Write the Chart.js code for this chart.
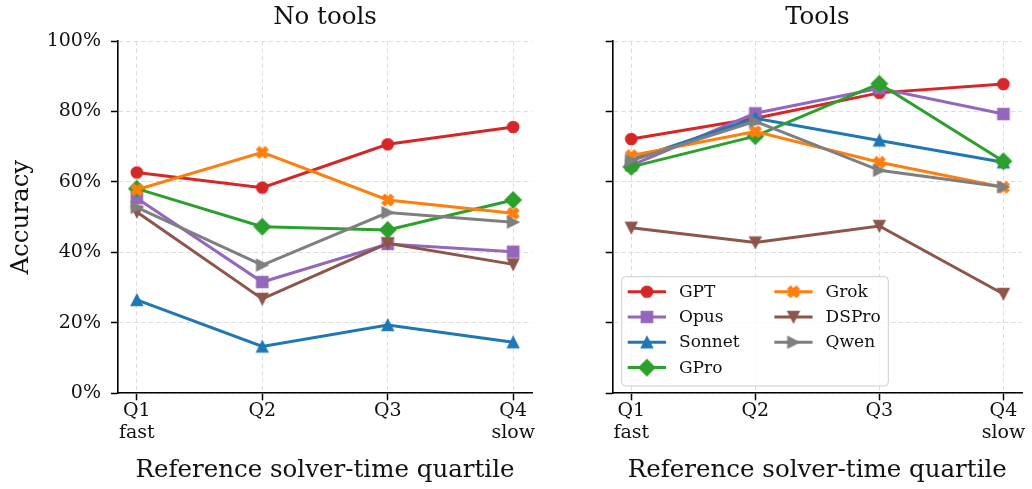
<!DOCTYPE html>
<html><head><meta charset="utf-8">
<script src="https://cdn.jsdelivr.net/npm/chart.js@4.4.1/dist/chart.umd.min.js"></script>
<style>
html,body{margin:0;padding:0;background:#fff;width:1032px;height:489px;overflow:hidden}
#cL{position:absolute;left:0;top:0}
#cR{position:absolute;left:560px;top:0}
</style></head><body>
<canvas id="cL" width="560" height="489"></canvas>
<canvas id="cR" width="472" height="489"></canvas>
<script>
// ---- data ----
const categories = ['Q1', 'Q2', 'Q3', 'Q4'];
const categorySubLabels = ['fast', '', '', 'slow'];
const yTicks = [0, 20, 40, 60, 80, 100];
const models = ['GPT', 'Opus', 'Sonnet', 'GPro', 'Grok', 'DSPro', 'Qwen'];
const colors = ['#d62728', '#9467bd', '#1f77b4', '#2ca02c', '#ff7f0e', '#8c564b', '#7f7f7f'];
const markers = ['circle', 'square', 'triUp', 'diamond', 'xFilled', 'triDown', 'triRight'];

const noToolsGPT    = [62.7, 58.4, 70.7, 75.6];
const noToolsOpus   = [55.4, 31.6, 42.4, 40.2];
const noToolsSonnet = [26.5, 13.3, 19.4, 14.5];
const noToolsGPro   = [58.1, 47.3, 46.4, 54.9];
const noToolsGrok   = [57.8, 68.4, 54.9, 51.1];
const noToolsDSPro  = [51.5, 26.8, 42.6, 36.6];
const noToolsQwen   = [52.8, 36.4, 51.3, 48.6];

const toolsGPT    = [72.2, 78.1, 85.3, 87.8];
const toolsOpus   = [64.7, 79.5, 86.6, 79.3];
const toolsSonnet = [66.3, 78.1, 71.8, 65.6];
const toolsGPro   = [64.3, 73.0, 87.9, 65.9];
const toolsGrok   = [67.5, 74.3, 65.6, 58.5];
const toolsDSPro  = [47.0, 42.8, 47.5, 28.2];
const toolsQwen   = [66.1, 77.2, 63.3, 58.6];

const noToolsSeries = [noToolsGPT, noToolsOpus, noToolsSonnet, noToolsGPro, noToolsGrok, noToolsDSPro, noToolsQwen];
const toolsSeries = [toolsGPT, toolsOpus, toolsSonnet, toolsGPro, toolsGrok, toolsDSPro, toolsQwen];

// ---- marker images ----
const MS = 11.5, EW = 1.2;
function markerCanvas(kind, color) {
  const size = 22;
  const c = document.createElement('canvas');
  c.width = size; c.height = size;
  const g = c.getContext('2d');
  g.translate(size / 2, size / 2);
  g.fillStyle = color; g.strokeStyle = color; g.lineWidth = EW; g.lineJoin = 'miter';
  const h = MS / 2;
  g.beginPath();
  if (kind === 'circle') {
    g.arc(0, 0, h, 0, Math.PI * 2);
  } else if (kind === 'square') {
    g.rect(-h, -h, MS, MS);
  } else if (kind === 'triUp') {
    g.moveTo(0, -h); g.lineTo(h, h); g.lineTo(-h, h); g.closePath();
  } else if (kind === 'triDown') {
    g.moveTo(0, h); g.lineTo(h, -h); g.lineTo(-h, -h); g.closePath();
  } else if (kind === 'triRight') {
    g.moveTo(h, 0); g.lineTo(-h, -h); g.lineTo(-h, h); g.closePath();
  } else if (kind === 'diamond') {
    const d = MS * Math.SQRT1_2;
    g.moveTo(0, -d); g.lineTo(d, 0); g.lineTo(0, d); g.lineTo(-d, 0); g.closePath();
  } else if (kind === 'xFilled') {
    const p = [[-1,-2],[0,-1],[1,-2],[2,-1],[1,0],[2,1],[1,2],[0,1],[-1,2],[-2,1],[-1,0],[-2,-1]];
    p.forEach((q, i) => { const x = q[0] * MS / 4, y = q[1] * MS / 4; if (i) g.lineTo(x, y); else g.moveTo(x, y); });
    g.closePath();
  }
  g.fill(); g.stroke();
  return c;
}

const FONT = 'DejaVu Serif';
const TEXT = '#111111';

const legendPlugin = {
  id: 'panelLegend',
  afterDatasetsDraw(chart, args, opts) {
    if (!opts || !opts.show) return;
    const ctx = chart.ctx, ca = chart.chartArea;
    const w = 266.6, h = 109.3;
    const x0 = ca.left + 9, y0 = ca.bottom - 7.3 - h;
    ctx.save();
    ctx.beginPath();
    if (ctx.roundRect) ctx.roundRect(x0, y0, w, h, 4); else ctx.rect(x0, y0, w, h);
    ctx.fillStyle = 'rgba(255,255,255,0.8)';
    ctx.fill();
    ctx.strokeStyle = '#cccccc'; ctx.lineWidth = 1; ctx.stroke();
    const rows = 4;
    chart.data.datasets.forEach((ds, i) => {
      const col = Math.floor(i / rows), row = i % rows;
      const lx = x0 + (col ? 152.6 : 6);
      const cy = y0 + 15 + row * 25.3;
      ctx.beginPath();
      ctx.moveTo(lx, cy); ctx.lineTo(lx + 38.3, cy);
      ctx.strokeStyle = ds.borderColor; ctx.lineWidth = 3; ctx.setLineDash([]);
      ctx.stroke();
      const img = ds.pointStyle;
      ctx.drawImage(img, lx + 19.2 - img.width / 2, cy - img.height / 2);
      ctx.fillStyle = TEXT;
      ctx.font = '17px "' + FONT + '"';
      ctx.textBaseline = 'middle'; ctx.textAlign = 'left';
      ctx.fillText(ds.label, lx + 51.3, cy + 0.5);
    });
    ctx.restore();
  }
};

function makePanel(canvasId, titleText, series, isLeft) {
  const datasets = models.map((m, i) => ({
    label: m,
    data: series[i].map((v, j) => ({ x: j, y: v })),
    borderColor: colors[i],
    backgroundColor: colors[i],
    borderWidth: 3,
    pointStyle: markerCanvas(markers[i], colors[i]),
    pointRadius: 7,
    order: models.length - i,
    tension: 0
  }));
  return new Chart(document.getElementById(canvasId), {
    type: 'line',
    data: { datasets },
    plugins: [legendPlugin],
    options: {
      responsive: false,
      animation: false,
      events: [],
      layout: { padding: { left: 0, right: isLeft ? 28 : 6, top: 0, bottom: 0 } },
      plugins: {
        legend: { display: false },
        tooltip: { enabled: false },
        title: {
          display: true, text: titleText, fullSize: false, color: TEXT,
          font: { family: FONT, size: 24.5, weight: 'normal', lineHeight: 1.2 },
          padding: { top: 3, bottom: 8.7 }
        },
        panelLegend: { show: !isLeft }
      },
      scales: {
        x: {
          type: 'linear', min: -0.15, max: 3.15,
          afterBuildTicks: (s) => { s.ticks = categories.map((c, i) => ({ value: i })); },
          afterFit: (s) => { s.height = 95.7; },
          ticks: {
            color: TEXT, padding: 0, maxRotation: 0, autoSkip: false,
            font: { family: FONT, size: 19, lineHeight: 1.15 },
            callback: (v) => { const i = Math.round(v); return categorySubLabels[i] ? [categories[i], categorySubLabels[i]] : categories[i]; }
          },
          grid: { color: '#dddddd', lineWidth: 1, drawTicks: true, tickLength: 7, tickColor: '#000', tickWidth: 1.5, tickBorderDash: [] },
          border: { display: true, color: '#000', width: 1.6, dash: [4.5, 3] },
          title: {
            display: true, text: 'Reference solver-time quartile', color: TEXT,
            font: { family: FONT, size: 24.5, weight: 'normal', lineHeight: 1.2 },
            padding: { top: 0, bottom: 4 }
          }
        },
        y: {
          type: 'linear', min: 0, max: 100,
          afterBuildTicks: (s) => { s.ticks = yTicks.map(v => ({ value: v })); },
          afterFit: (s) => { s.width = isLeft ? 118 : 52.7; },
          ticks: {
            display: isLeft, color: TEXT, padding: 10,
            font: { family: FONT, size: 19 },
            callback: (v) => v + '%'
          },
          grid: { color: '#dddddd', lineWidth: 1, drawTicks: true, tickLength: 7, tickColor: '#000', tickWidth: 1.5, tickBorderDash: [] },
          border: { display: true, color: '#000', width: 1.6, dash: [4.5, 3] },
          title: {
            display: isLeft, text: 'Accuracy', color: TEXT,
            font: { family: FONT, size: 24.5, weight: 'normal', lineHeight: 1.2 },
            padding: { top: 7, bottom: 0 }
          }
        }
      }
    }
  });
}

makePanel('cL', 'No tools', noToolsSeries, true);
makePanel('cR', 'Tools', toolsSeries, false);
</script>
</body></html>
